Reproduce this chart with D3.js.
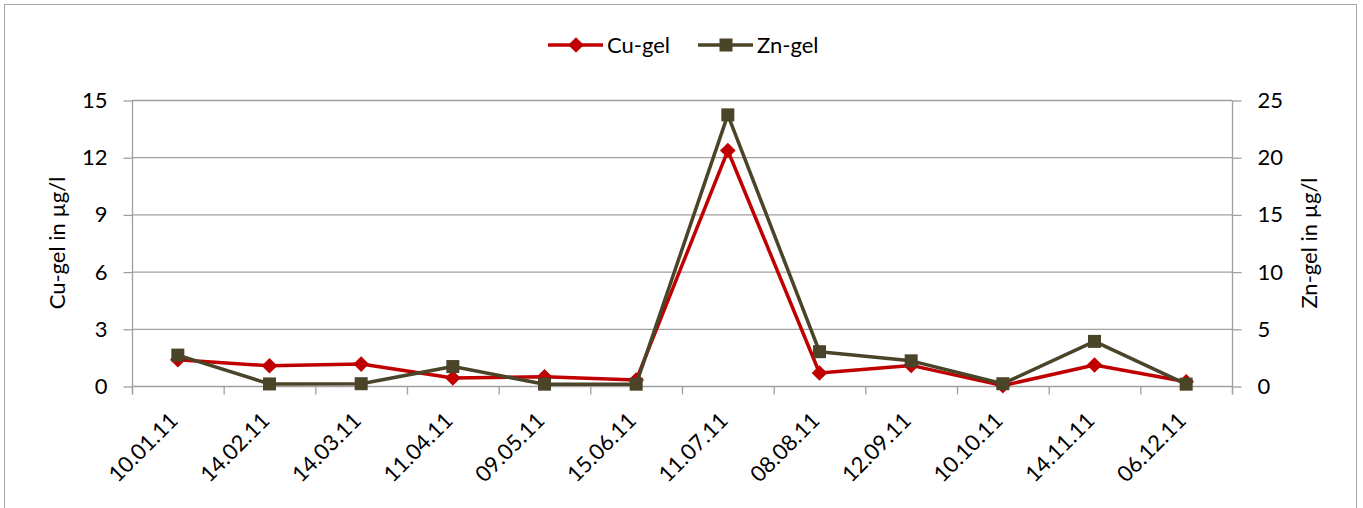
<!DOCTYPE html>
<html>
<head>
<meta charset="utf-8">
<script src="https://cdn.jsdelivr.net/npm/d3@7"></script>
<style>
  body { margin: 0; background: #fff; }
  svg { font-family: Lato, "Open Sans", sans-serif; }
</style>
</head>
<body>
<div id="chart"></div>
<script>
const dates = ['10.01.11', '14.02.11', '14.03.11', '11.04.11', '09.05.11', '15.06.11',
  '11.07.11', '08.08.11', '12.09.11', '10.10.11', '14.11.11', '06.12.11']
const cuGel = [1.38, 1.06, 1.15, 0.42, 0.48, 0.31, 12.35, 0.68, 1.08, 0.02, 1.1, 0.22]
const znGel = [2.7, 0.18, 0.2, 1.7, 0.16, 0.16, 23.7, 3.0, 2.2, 0.2, 3.9, 0.16]
const cuTicks = [0, 3, 6, 9, 12, 15]
const znTicks = [0, 5, 10, 15, 20, 25]

const W = 1363, H = 508
const pLeft = 132, pRight = 1232, pTop = 100, pBottom = 386
const red = '#c00000', olive = '#4a4429', grid = '#a0a0a0'
const fs = 22

const svg = d3.select('#chart').append('svg').attr('width', W).attr('height', H)

// outer frame
svg.append('rect').attr('x', 4.5).attr('y', 4.5).attr('width', 1352).attr('height', 520)
  .attr('fill', 'none').attr('stroke', '#a6a6a6').attr('stroke-width', 1)

const x = d3.scaleBand().domain(dates).range([pLeft, pRight])
const yCu = d3.scaleLinear().domain([0, 15]).range([pBottom, pTop])
const yZn = d3.scaleLinear().domain([0, 25]).range([pBottom, pTop])
const cx = d => x(d) + x.bandwidth() / 2

// gridlines
svg.append('g').selectAll('line').data(cuTicks.filter(t => t > 0)).enter().append('line')
  .attr('x1', pLeft).attr('x2', pRight)
  .attr('y1', d => yCu(d) + 0.5).attr('y2', d => yCu(d) + 0.5)
  .attr('stroke', grid).attr('stroke-width', 1.3)

// left axis
const leftAxis = svg.append('g').attr('transform', `translate(${pLeft + 0.5},0.5)`)
  .call(d3.axisLeft(yCu).tickValues(cuTicks).tickSize(9).tickPadding(16))
leftAxis.select('.domain').attr('stroke', grid).attr('stroke-width', 1.3).attr('d', `M0,${pTop}V${pBottom + 8}`)
leftAxis.selectAll('.tick line').attr('stroke', grid).attr('stroke-width', 1.3)
leftAxis.selectAll('text').attr('font-size', fs).attr('fill', '#000').attr('font-family', 'Lato, sans-serif')

// right axis
const rightAxis = svg.append('g').attr('transform', `translate(${pRight + 0.5},0.5)`)
  .call(d3.axisRight(yZn).tickValues(znTicks).tickSize(9).tickPadding(16))
rightAxis.select('.domain').attr('stroke', grid).attr('stroke-width', 1.3).attr('d', `M0,${pTop}V${pBottom + 8}`)
rightAxis.selectAll('.tick line').attr('stroke', grid).attr('stroke-width', 1.3)
rightAxis.selectAll('text').attr('font-size', fs).attr('fill', '#000').attr('font-family', 'Lato, sans-serif')

// bottom axis
const xb = svg.append('g').attr('transform', `translate(0,${pBottom + 0.5})`)
xb.append('line').attr('x1', pLeft).attr('x2', pRight).attr('stroke', grid).attr('stroke-width', 1.3)
xb.selectAll('line.tk').data(dates.concat(['end'])).enter().append('line').attr('class', 'tk')
  .attr('x1', (d, i) => pLeft + i * x.bandwidth() + 0.5).attr('x2', (d, i) => pLeft + i * x.bandwidth() + 0.5)
  .attr('y1', 0).attr('y2', 8).attr('stroke', grid).attr('stroke-width', 1.3)
xb.selectAll('text').data(dates).enter().append('text')
  .attr('transform', d => `translate(${cx(d) - 4},${30}) rotate(-45)`)
  .attr('text-anchor', 'end').attr('dy', '0.35em')
  .attr('font-size', fs).text(d => d)

// axis titles
svg.append('text').attr('transform', `translate(65,${(pTop + pBottom) / 2}) rotate(-90)`)
  .attr('text-anchor', 'middle').attr('font-size', fs).text('Cu-gel in µg/l')
svg.append('text').attr('transform', `translate(1317,${(pTop + pBottom) / 2}) rotate(-90)`)
  .attr('text-anchor', 'middle').attr('font-size', fs).text('Zn-gel in µg/l')

// lines
const cuLine = d3.line().x((d, i) => cx(dates[i])).y(d => yCu(d))
const znLine = d3.line().x((d, i) => cx(dates[i])).y(d => yZn(d))
svg.append('path').attr('d', cuLine(cuGel)).attr('fill', 'none').attr('stroke', red)
  .attr('stroke-width', 3.5).attr('stroke-linejoin', 'round')
svg.selectAll('path.cu').data(cuGel).enter().append('path').attr('class', 'cu')
  .attr('d', d3.symbol(d3.symbolDiamond2, 100)())
  .attr('transform', (d, i) => `translate(${cx(dates[i])},${yCu(d)}) scale(1.25)`)
  .attr('fill', red)

svg.append('path').attr('d', znLine(znGel)).attr('fill', 'none').attr('stroke', olive)
  .attr('stroke-width', 3.5).attr('stroke-linejoin', 'round')
svg.selectAll('rect.zn').data(znGel).enter().append('rect').attr('class', 'zn')
  .attr('x', (d, i) => cx(dates[i]) - 6.5).attr('y', d => yZn(d) - 6.5)
  .attr('width', 13).attr('height', 13).attr('fill', olive)

// legend
const legend = [['Cu-gel', red, 'd'], ['Zn-gel', olive, 's']]
const lg = svg.append('g').attr('transform', 'translate(548,45)')
legend.forEach((l, i) => {
  const g = lg.append('g').attr('transform', `translate(${i * 150},0)`)
  g.append('line').attr('x1', 0).attr('x2', 55).attr('stroke', l[1]).attr('stroke-width', 3.5)
  if (l[2] === 'd') {
    g.append('path').attr('d', d3.symbol(d3.symbolDiamond2, 100)()).attr('transform', 'translate(28,0) scale(1.25)').attr('fill', l[1])
  } else {
    g.append('rect').attr('x', 21.5).attr('y', -6.5).attr('width', 13).attr('height', 13).attr('fill', l[1])
  }
  g.append('text').attr('x', 59).attr('dy', '0.35em').attr('font-size', fs).text(l[0])
})
</script>
</body>
</html>
